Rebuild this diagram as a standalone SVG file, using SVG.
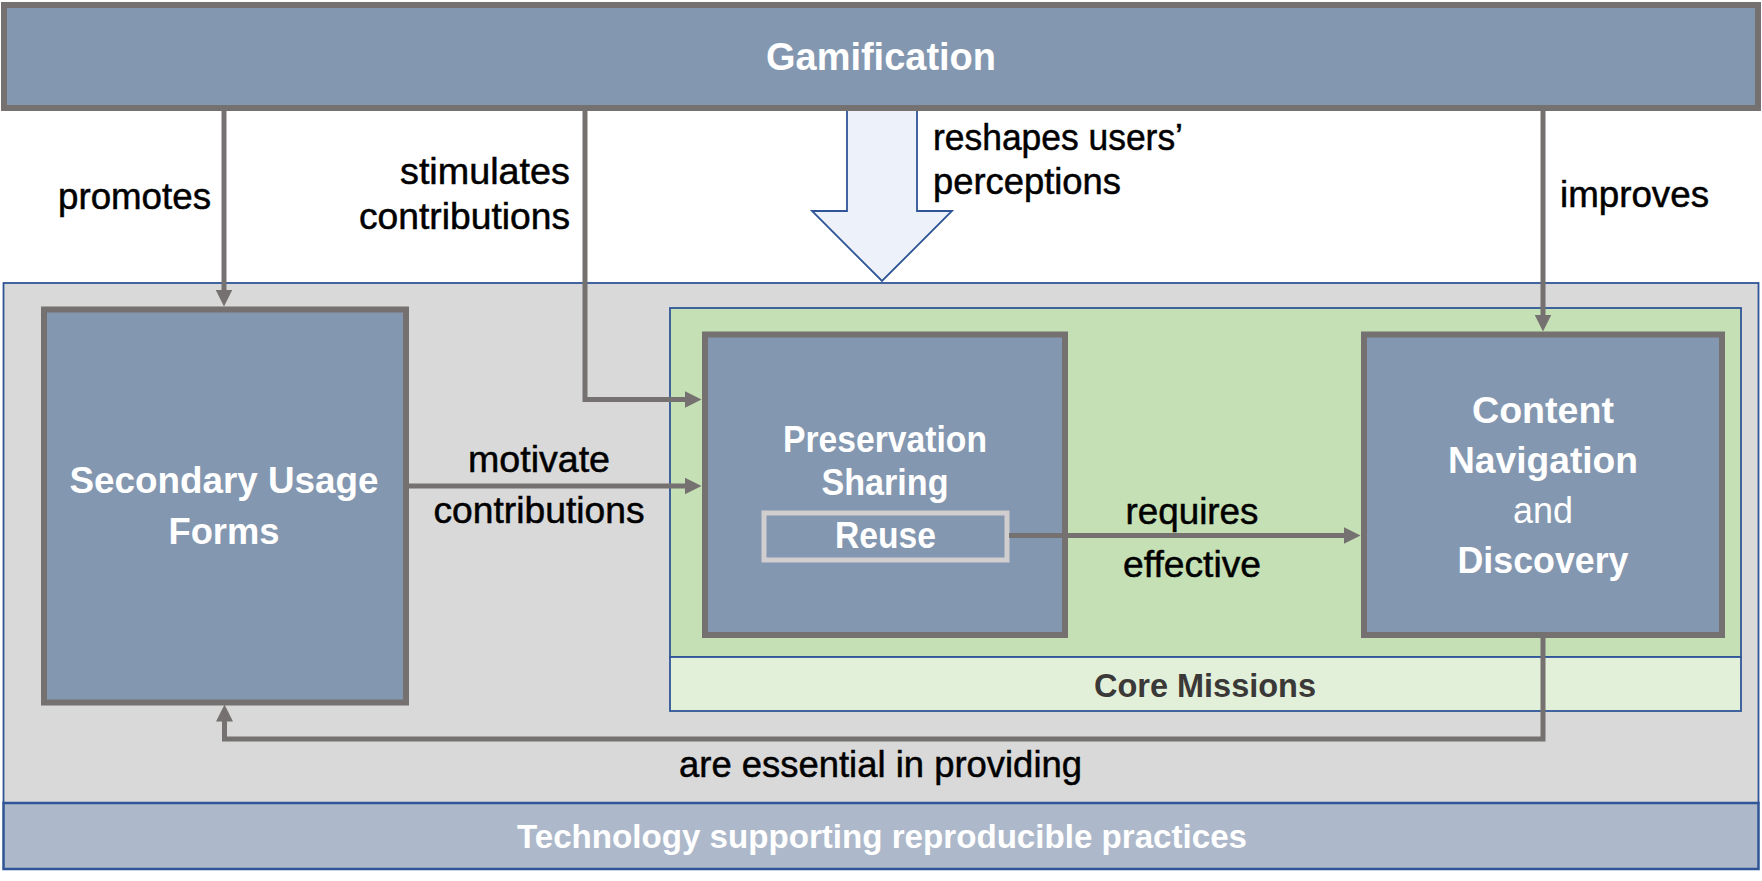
<svg xmlns="http://www.w3.org/2000/svg" width="1762" height="881" viewBox="0 0 1762 881">
<defs>
<style>
.box{fill:#8497B0;stroke:#767171;stroke-width:6}
.wt{font-family:"Liberation Sans",Arial,sans-serif;font-weight:bold;font-size:37px;fill:#FFFFFF;text-anchor:middle}
.bl{font-family:"Liberation Sans",Arial,sans-serif;font-size:36px;fill:#000000;stroke:#000000;stroke-width:0.5}
.conn{fill:none;stroke:#767171;stroke-width:5}
.panel{stroke:#2F5597;stroke-width:1.8}
</style>
<marker id="ah" markerUnits="userSpaceOnUse" markerWidth="17" markerHeight="17" refX="0.5" refY="8.5" orient="auto" viewBox="0 0 17 17">
<path d="M0,0 L17,8.5 L0,17 Z" fill="#767171"/>
</marker>
</defs>
<rect width="1762" height="881" fill="#FFFFFF"/>

<g id="technology-panel">
<rect class="panel" x="3.5" y="283" width="1755" height="520" fill="#D9D9D9"/>
<rect x="3.5" y="803" width="1755" height="66" fill="#ADB9CA" stroke="#2F5597" stroke-width="2.5"/>
<text class="wt" x="882" y="848" style="font-size:33px" textLength="730" lengthAdjust="spacingAndGlyphs">Technology supporting reproducible practices</text>
</g>

<g id="core-missions">
<rect class="panel" x="670" y="308" width="1071" height="349" fill="#C5E0B4"/>
<rect class="panel" x="670" y="657" width="1071" height="54" fill="#E2F0D9"/>
<text x="1205" y="697" font-family="Liberation Sans, Arial, sans-serif" font-weight="bold" font-size="33" fill="#3B3838" text-anchor="middle" textLength="222" lengthAdjust="spacingAndGlyphs">Core Missions</text>
</g>

<g id="reshapes-arrow">
<polygon points="847,104 917,104 917,211 952,211 882,281 812,211 847,211" fill="#EDF2FA" stroke="#2F5597" stroke-width="1.8" stroke-linejoin="miter"/>
</g>

<g id="gamification">
<rect class="box" x="4" y="5" width="1754" height="103"/>
<text class="wt" x="881" y="70" style="font-size:38px" textLength="230" lengthAdjust="spacingAndGlyphs">Gamification</text>
</g>

<g id="secondary-usage">
<rect class="box" x="44" y="309.5" width="362" height="393"/>
<text class="wt" x="224" y="493" textLength="309" lengthAdjust="spacingAndGlyphs">Secondary Usage</text>
<text class="wt" x="224" y="544" textLength="111" lengthAdjust="spacingAndGlyphs">Forms</text>
</g>

<g id="preservation">
<rect class="box" x="705" y="334.5" width="360" height="300.5"/>
<text class="wt" x="885" y="452" textLength="204" lengthAdjust="spacingAndGlyphs">Preservation</text>
<text class="wt" x="885" y="495" textLength="127" lengthAdjust="spacingAndGlyphs">Sharing</text>
</g>

<g id="reuse">
<rect x="764" y="513" width="243" height="47" fill="#8497B0" stroke="#D0CECE" stroke-width="5"/>
<text class="wt" x="885.5" y="548" textLength="101" lengthAdjust="spacingAndGlyphs">Reuse</text>
</g>

<g id="content-navigation">
<rect class="box" x="1364" y="334.5" width="358" height="300.5"/>
<text class="wt" x="1543" y="423" textLength="142" lengthAdjust="spacingAndGlyphs">Content</text>
<text class="wt" x="1543" y="473" textLength="190" lengthAdjust="spacingAndGlyphs">Navigation</text>
<text class="wt" x="1543" y="523" style="font-weight:normal" textLength="60" lengthAdjust="spacingAndGlyphs">and</text>
<text class="wt" x="1543" y="573" textLength="171" lengthAdjust="spacingAndGlyphs">Discovery</text>
</g>

<g id="connectors">
<path class="conn" d="M224,110 V290" marker-end="url(#ah)"/>
<path class="conn" d="M585,110 V399.5 H685" marker-end="url(#ah)"/>
<path class="conn" d="M1543,110 V315" marker-end="url(#ah)"/>
<path class="conn" d="M408,486 H685" marker-end="url(#ah)"/>
<path class="conn" d="M1009,535.5 H1344" marker-end="url(#ah)"/>
<path class="conn" d="M1543,637 V739 H224.5 V721" marker-end="url(#ah)"/>
</g>

<g id="labels">
<text class="bl" x="211" y="209" text-anchor="end" textLength="153" lengthAdjust="spacingAndGlyphs">promotes</text>
<text class="bl" x="570" y="184" text-anchor="end" textLength="170" lengthAdjust="spacingAndGlyphs">stimulates</text>
<text class="bl" x="570" y="229" text-anchor="end" textLength="211" lengthAdjust="spacingAndGlyphs">contributions</text>
<text class="bl" x="933" y="150" textLength="250" lengthAdjust="spacingAndGlyphs">reshapes users’</text>
<text class="bl" x="933" y="194" textLength="188" lengthAdjust="spacingAndGlyphs">perceptions</text>
<text class="bl" x="1560" y="207" textLength="149" lengthAdjust="spacingAndGlyphs">improves</text>
<text class="bl" x="539" y="472" text-anchor="middle" textLength="142" lengthAdjust="spacingAndGlyphs">motivate</text>
<text class="bl" x="539" y="523" text-anchor="middle" textLength="211" lengthAdjust="spacingAndGlyphs">contributions</text>
<text class="bl" x="1192" y="524" text-anchor="middle" textLength="133" lengthAdjust="spacingAndGlyphs">requires</text>
<text class="bl" x="1192" y="577" text-anchor="middle" textLength="138" lengthAdjust="spacingAndGlyphs">effective</text>
<text class="bl" x="679" y="777" textLength="403" lengthAdjust="spacingAndGlyphs">are essential in providing</text>
</g>
</svg>
